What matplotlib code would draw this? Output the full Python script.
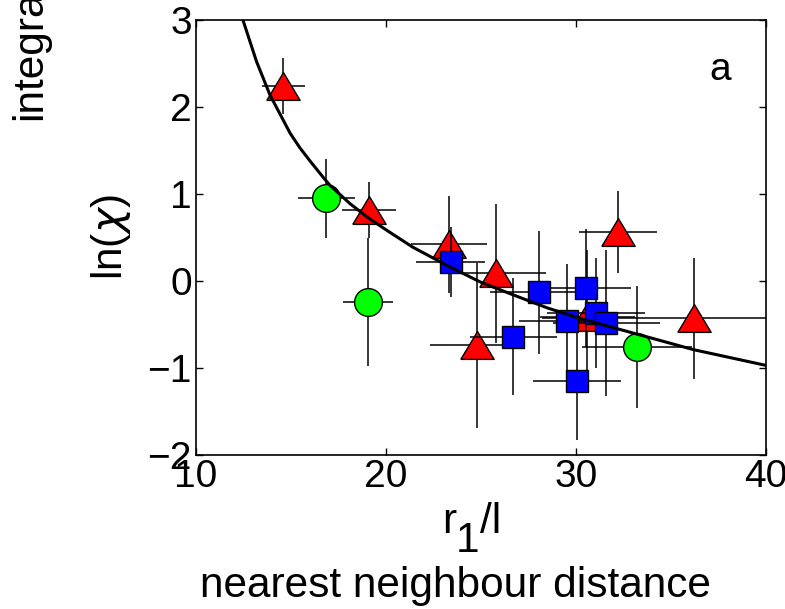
import numpy as np
import matplotlib.pyplot as plt

plt.rcParams['font.family'] = ['Liberation Sans', 'DejaVu Sans']

# red triangles
TRI_X = [14.6, 19.1, 23.3, 25.8, 24.8, 32.2, 36.2, 30.6]
TRI_Y = [2.24, 0.82, 0.42, 0.09, -0.74, 0.56, -0.43, -0.41]
TRI_XERR = [1.15, 1.4, 2.0, 2.6, 2.5, 2.05, 8.0, 2.5]
TRI_YERR = [0.32, 0.32, 0.56, 0.8, 0.95, 0.47, 0.70, 0.77]

# blue squares
SQ_X = [23.4, 26.7, 28.05, 29.5, 30.05, 30.5, 31.05, 31.6]
SQ_Y = [0.22, -0.64, -0.13, -0.46, -1.15, -0.08, -0.37, -0.48]
SQ_XERR = [1.8, 2.3, 2.6, 2.5, 2.3, 2.4, 2.6, 2.8]
SQ_YERR = [0.4, 0.67, 0.71, 0.65, 0.68, 0.68, 0.63, 0.84]

# green circles
CIRC_X = [16.85, 19.05, 33.2]
CIRC_Y = [0.95, -0.24, -0.76]
CIRC_XERR = [1.5, 1.3, 2.9]
CIRC_YERR = [0.45, 0.74, 0.70]

# fitted curve
CURVE_R = [12.47, 13.19, 13.89, 14.95, 15.47, 16.0, 16.7, 17.05, 18.1, 19.1,
           20.2, 21.4, 23.2, 24.95, 26.7, 28.5, 30.2, 32.7, 36.2, 40.0]
CURVE_Y = [3.0, 2.52, 2.14, 1.70, 1.53, 1.38, 1.19, 1.10, 0.89, 0.72,
           0.56, 0.39, 0.18, -0.01, -0.16, -0.31, -0.43, -0.58, -0.79, -0.97]

FS = 28      # tick labels
LFS = 30.5   # axis labels

# slightly wide triangle
tri = [(-1.2, -1.0), (1.2, -1.0), (0.0, 1.0), (-1.2, -1.0)]

fig = plt.figure(figsize=(7.85, 6.09), dpi=100)
ax = fig.add_axes([196/785, 1 - 455/609, 570/785, 435/609])

bar = dict(ecolor='k', elinewidth=1.1, capsize=0, mec='k', mew=1.0,
           linestyle='none')
ax.errorbar(TRI_X, TRI_Y, xerr=TRI_XERR, yerr=TRI_YERR, marker=tri, ms=24,
            mfc='red', zorder=2, **bar)
ax.errorbar(SQ_X, SQ_Y, xerr=SQ_XERR, yerr=SQ_YERR, marker='s', ms=16.5,
            mfc='blue', zorder=3, **bar)
ax.errorbar(CIRC_X, CIRC_Y, xerr=CIRC_XERR, yerr=CIRC_YERR, marker='o',
            ms=20, mfc='#00ff00', zorder=4, **bar)
ax.plot(CURVE_R, CURVE_Y, color='k', lw=2.2, zorder=5)

ax.set_xlim(10, 40)
ax.set_ylim(-2, 3)
ax.set_xticks([10, 20, 30, 40])
ax.set_yticks([-2, -1, 0, 1, 2, 3])
ax.tick_params(direction='in', length=5, width=1.0, labelsize=FS,
               top=True, right=True, pad=3)
for s in ax.spines.values():
    s.set_linewidth(1.2)

ax.text(0.92, 0.885, 'a', transform=ax.transAxes, fontsize=FS,
        ha='center', va='center')

fig.text(30/785, 1 - 120/609, 'integrated', rotation=90, fontsize=LFS,
         ha='center', va='bottom')
fig.text(111/785, 1 - 237/609, r'ln($\chi$)', rotation=90, fontsize=LFS,
         ha='center', va='center')

# r_1/l with a full-size, dropped subscript
fig.text(442/785, 1 - 533/609, 'r', fontsize=LFS, ha='left', va='baseline')
fig.text(456/785, 1 - 552/609, '1', fontsize=LFS, ha='left', va='baseline')
fig.text(480/785, 1 - 533/609, '/l', fontsize=LFS, ha='left', va='baseline')

fig.text(455/785, 1 - 597/609, 'nearest neighbour distance', fontsize=LFS,
         ha='center', va='baseline')

fig.savefig('out.png', dpi=100)
